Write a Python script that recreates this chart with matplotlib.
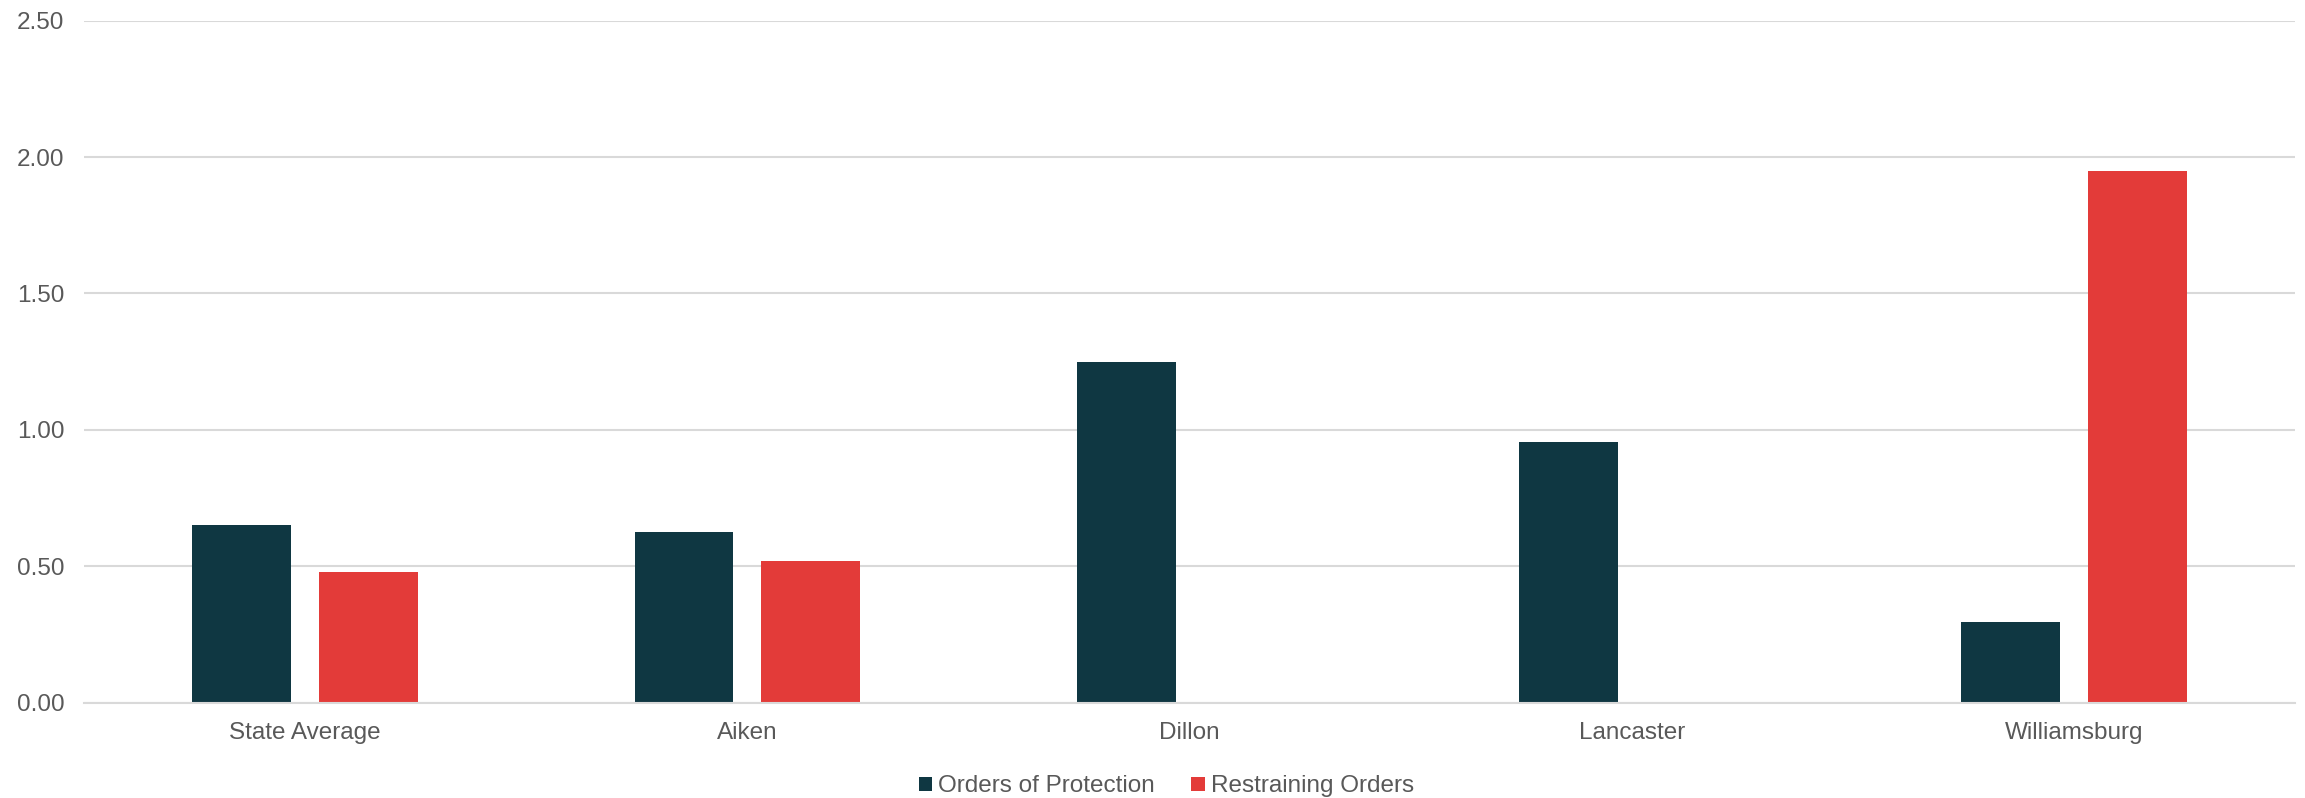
import numpy as np
import matplotlib.pyplot as plt

# data
categories = ["State Average", "Aiken", "Dillon", "Lancaster", "Williamsburg"]
orders_of_protection = [0.65, 0.625, 1.25, 0.955, 0.295]
restraining_orders = [0.48, 0.52, 0.0, 0.0, 1.95]
series_names = ["Orders of Protection", "Restraining Orders"]
y_ticks = [0.0, 0.5, 1.0, 1.5, 2.0, 2.5]

dark = "#0f3742"
red = "#e33b39"
grid_col = "#d9d9d9"
text_col = "#595959"

plt.rcParams["font.family"] = ["Liberation Sans", "DejaVu Sans"]

fig = plt.figure(figsize=(23.05, 7.98), dpi=100)
ax = fig.add_axes([0.0364, 0.1194, 0.9593, 0.8548])

x = np.arange(len(categories))
w = 0.223
off = 0.143

ax.bar(x - off, orders_of_protection, width=w, color=dark, label=series_names[0], zorder=3)
ax.bar(x + off, restraining_orders, width=w, color=red, label=series_names[1], zorder=3)

ax.set_xlim(-0.5, len(categories) - 0.5)
ax.set_ylim(0, 2.5)
ax.set_yticks(y_ticks)
ax.set_yticklabels([f"{v:.2f}" for v in y_ticks])
ax.set_xticks(x)
ax.set_xticklabels(categories)

ax.yaxis.grid(True, color=grid_col, linewidth=1.5, zorder=0)
for s in ["top", "right", "left"]:
    ax.spines[s].set_visible(False)
ax.spines["bottom"].set_color(grid_col)
ax.spines["bottom"].set_linewidth(1.5)
ax.spines["bottom"].set_zorder(4)

ax.tick_params(axis="both", length=0, labelsize=17.5, labelcolor=text_col)
ax.tick_params(axis="y", pad=14)
ax.tick_params(axis="x", pad=14)

fig.legend(loc="center", bbox_to_anchor=(0.506, 0.0145), ncol=2, frameon=False,
           fontsize=17.5, labelcolor=text_col, handlelength=0.55, handleheight=0.55,
           handletextpad=0.25, columnspacing=1.5)

fig.savefig("out.png", dpi=100)
